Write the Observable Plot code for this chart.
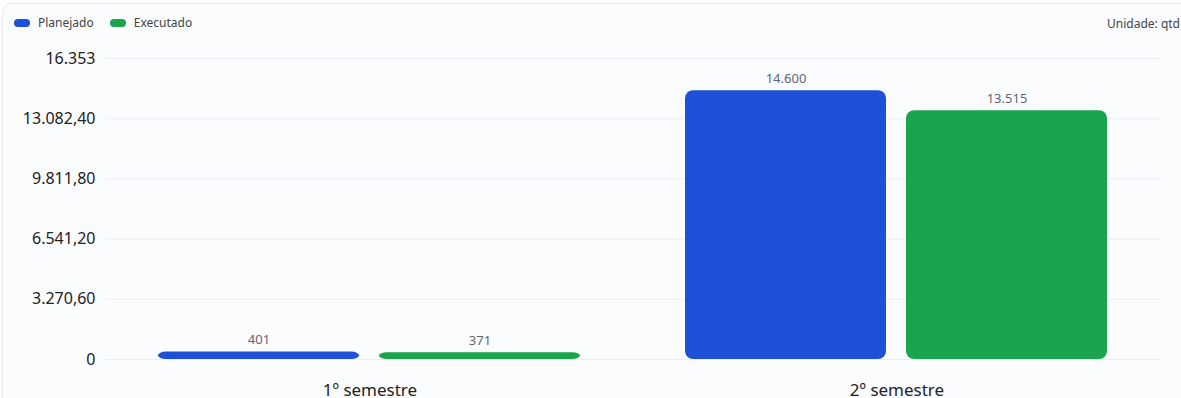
<!DOCTYPE html>
<html>
<head>
<meta charset="utf-8">
<script src="https://cdn.jsdelivr.net/npm/d3@7"></script>
<script src="https://cdn.jsdelivr.net/npm/@observablehq/plot@0.6"></script>
<style>
  body { margin: 0; background: #ffffff; font-family: "Noto Sans", "Open Sans", sans-serif; }
  #wrap { position: relative; width: 1181px; height: 398px; overflow: hidden; background: #ffffff; }
  #card { position: absolute; left: 2px; top: 3px; width: 1220px; height: 440px; border: 1px solid #e7eaf1; border-radius: 10px; background: #fbfcfe; }
  #legend { position: absolute; left: 14px; top: 14px; display: flex; gap: 16px; font-size: 12px; color: #444; }
  #legend .item { display: flex; align-items: center; gap: 8px; }
  #legend .sw { width: 16px; height: 8px; border-radius: 4px; display: inline-block; }
  #unit { position: absolute; right: 1px; top: 15px; font-size: 12px; color: #444; }
  #chart { position: absolute; left: 0; top: 40px; }
</style>
</head>
<body>
<div id="wrap">
  <div id="card"></div>
  <div id="legend"></div>
  <div id="unit">Unidade: qtd</div>
  <div id="chart"></div>
</div>
<script>
const semesters = ["1º semestre", "2º semestre"];
const seriesNames = ["Planejado", "Executado"];
const planejado = [401, 14600];
const executado = [371, 13515];
const seriesColors = ["#1e50d8", "#1aa44e"];
const yTicks = [0, 3270.6, 6541.2, 9811.8, 13082.4, 16353];
const unitLabel = "Unidade: qtd";

const data = [];
semesters.forEach((s, i) => {
  data.push({semester: s, series: seriesNames[0], value: planejado[i]});
  data.push({semester: s, series: seriesNames[1], value: executado[i]});
});

const loc = d3.formatLocale({decimal: ",", thousands: ".", grouping: [3], currency: ["R$", ""]});
const fmtInt = loc.format(",d");
const fmtDec = loc.format(",.2f");
const fmtTick = d => Number.isInteger(d) ? fmtInt(d) : fmtDec(d);

// legend
const legend = document.getElementById("legend");
seriesNames.forEach((n, i) => {
  const it = document.createElement("div");
  it.className = "item";
  it.innerHTML = `<span class="sw" style="background:${seriesColors[i]}"></span><span>${n}</span>`;
  legend.appendChild(it);
});
document.getElementById("unit").textContent = unitLabel;

const chart = Plot.plot({
  width: 1181,
  height: 358,
  marginLeft: 105,
  marginRight: 21,
  marginTop: 18,
  marginBottom: 39,
  style: {background: "transparent", fontFamily: "Noto Sans, Open Sans, sans-serif", overflow: "visible"},
  fx: {domain: semesters, padding: 0, label: null, tickSize: 0, tickPadding: 24},
  x: {domain: seriesNames, paddingInner: 0.09, paddingOuter: 0.233, axis: null},
  y: {domain: [0, 16353], ticks: yTicks, tickFormat: fmtTick, tickSize: 0, tickPadding: 11, label: null},
  color: {domain: seriesNames, range: seriesColors},
  marks: [
    Plot.gridY(yTicks, {stroke: "#e9edf6", strokeOpacity: 1, strokeWidth: 1}),
    Plot.barY(data, {fx: "semester", x: "series", y: "value", fill: "series", rx: 8}),
    Plot.text(data, {fx: "semester", x: "series", y: "value", text: d => fmtInt(d.value), dy: -12, fill: "#5f6572", fontSize: 13})
  ]
});
chart.querySelectorAll("g[aria-label='y-axis tick label']").forEach(g => g.setAttribute("font-size", "16"));
chart.querySelectorAll("g[aria-label='fx-axis tick label']").forEach(g => g.setAttribute("font-size", "17"));
chart.querySelectorAll("g[aria-label='y-axis tick label'], g[aria-label='fx-axis tick label']").forEach(g => g.setAttribute("fill", "#222"));
chart.querySelectorAll("g[aria-label='y-axis tick label'] text, g[aria-label='fx-axis tick label'] text").forEach(t => t.setAttribute("fill", "#222"));
document.getElementById("chart").appendChild(chart);
</script>
</body>
</html>
